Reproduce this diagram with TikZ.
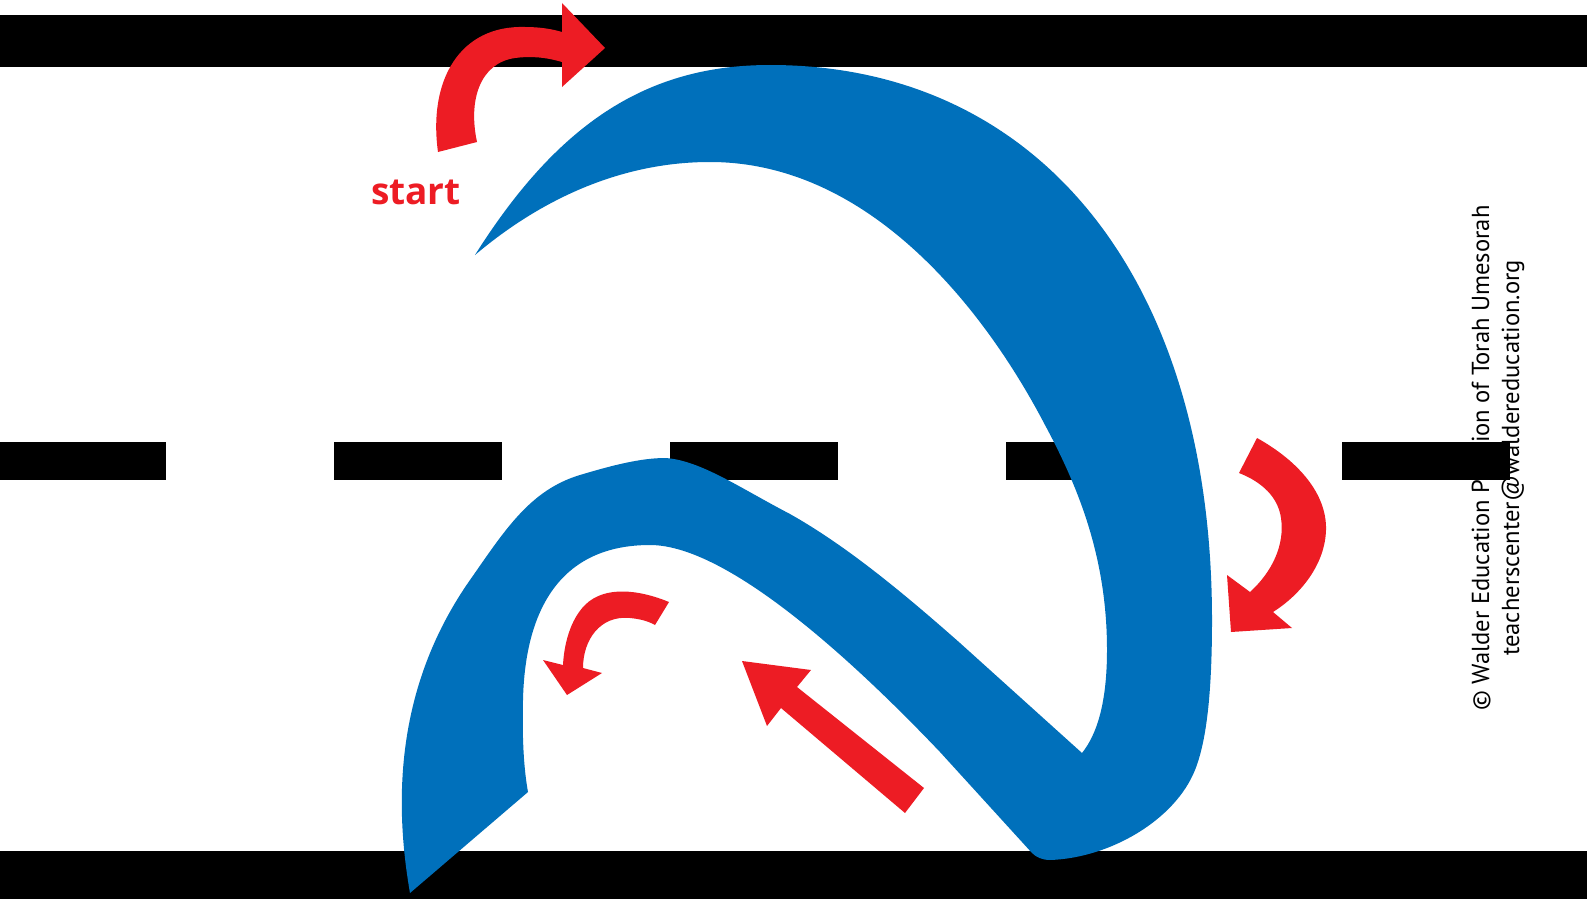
\documentclass[tikz,border=0pt]{standalone}
\usepackage{fontspec}
\setmainfont{Open Sans}
\newfontfamily\credfont{PT Sans}
\definecolor{ared}{RGB}{237,28,36}
\definecolor{ablue}{RGB}{0,112,187}
\begin{document}
\begin{tikzpicture}[x=1pt,y=-1pt,
  bar/.style={fill=black},
  redshape/.style={fill=ared},
  blueshape/.style={fill=ablue},
  credit/.style={rotate=90,align=center,inner sep=0pt,font=\credfont\fontsize{24.6}{30}\selectfont},
  startlabel/.style={anchor=base,inner sep=0pt,text=ared,font=\bfseries\fontsize{37}{40}\selectfont}]
\useasboundingbox (0,0) rectangle (1587,899);
\fill[white] (0,0) rectangle (1587,899);
% road edges
\fill[bar] (0,15) rectangle (1587,67);
\fill[bar] (0,851) rectangle (1587,899);
% credit
\node[credit] (copyright) at (1498,458) {© Walder Education Pavilion of Torah Umesorah\\teacherscenter@waldereducation.org};
% centre dashes
\foreach \x in {-2,334,670,1006,1342}
  \fill[bar] (\x,442) rectangle ++(168,38);
% blue letter
\fill[blueshape]
  (475,255) .. controls (560,120) and (650,65) .. (770,65)
  .. controls (1040,65) and (1212,280) .. (1212,620)
  .. controls (1212,690) and (1207,740) .. (1195,770)
  .. controls (1175,820) and (1110,858) .. (1050,860)
  .. controls (1042,860) and (1036,857) .. (1032,853)
  -- (940,752)
  .. controls (860,668) and (730,545) .. (650,545)
  .. controls (560,545) and (525,610) .. (523,700)
  .. controls (522,740) and (524,770) .. (528,792)
  -- (410,893)
  .. controls (392,790) and (400,680) .. (470,580)
  .. controls (505,530) and (530,490) .. (580,475)
  .. controls (610,466) and (640,458) .. (665,458)
  .. controls (700,460) and (740,488) .. (790,514)
  .. controls (845,545) and (900,590) .. (960,643)
  -- (1082,753)
  .. controls (1098,733) and (1107,700) .. (1107,650)
  .. controls (1107,560) and (1080,490) .. (1045,425)
  .. controls (985,310) and (870,162) .. (710,162)
  .. controls (620,162) and (540,200) .. (475,255)
  -- cycle;
% start arrow
\fill[redshape]
  (438,152) .. controls (428,80) and (460,25) .. (525,27)
  .. controls (540,27) and (552,29) .. (562,32)
  -- (562,3) -- (605,48) -- (562,87) -- (562,62)
  .. controls (545,57) and (530,56) .. (515,58)
  .. controls (480,63) and (468,100) .. (477,142)
  -- cycle;
\node[startlabel] (start) at (416,204) {start};
% right curved arrow
\fill[redshape]
  (1257,438) .. controls (1300,462) and (1327,495) .. (1326,530)
  .. controls (1325,565) and (1300,595) .. (1273,612)
  -- (1292,628) -- (1231,632) -- (1227,575) -- (1250,592)
  .. controls (1272,572) and (1285,545) .. (1281,518)
  .. controls (1278,497) and (1262,482) .. (1239,473)
  -- cycle;
% small curved arrow
\fill[redshape]
  (669,602) .. controls (640,590) and (605,585) .. (585,605)
  .. controls (570,620) and (564,645) .. (563,665)
  -- (543,660) -- (567,695) -- (602,673) -- (583,668)
  .. controls (583,640) and (600,615) .. (630,618)
  .. controls (640,619) and (648,621) .. (655,625)
  -- cycle;
% straight arrow
\fill[redshape] (924,788) -- (797,687) -- (811,670) -- (742,661) -- (767,726) -- (781,708) -- (905,813) -- cycle;
\end{tikzpicture}
\end{document}
